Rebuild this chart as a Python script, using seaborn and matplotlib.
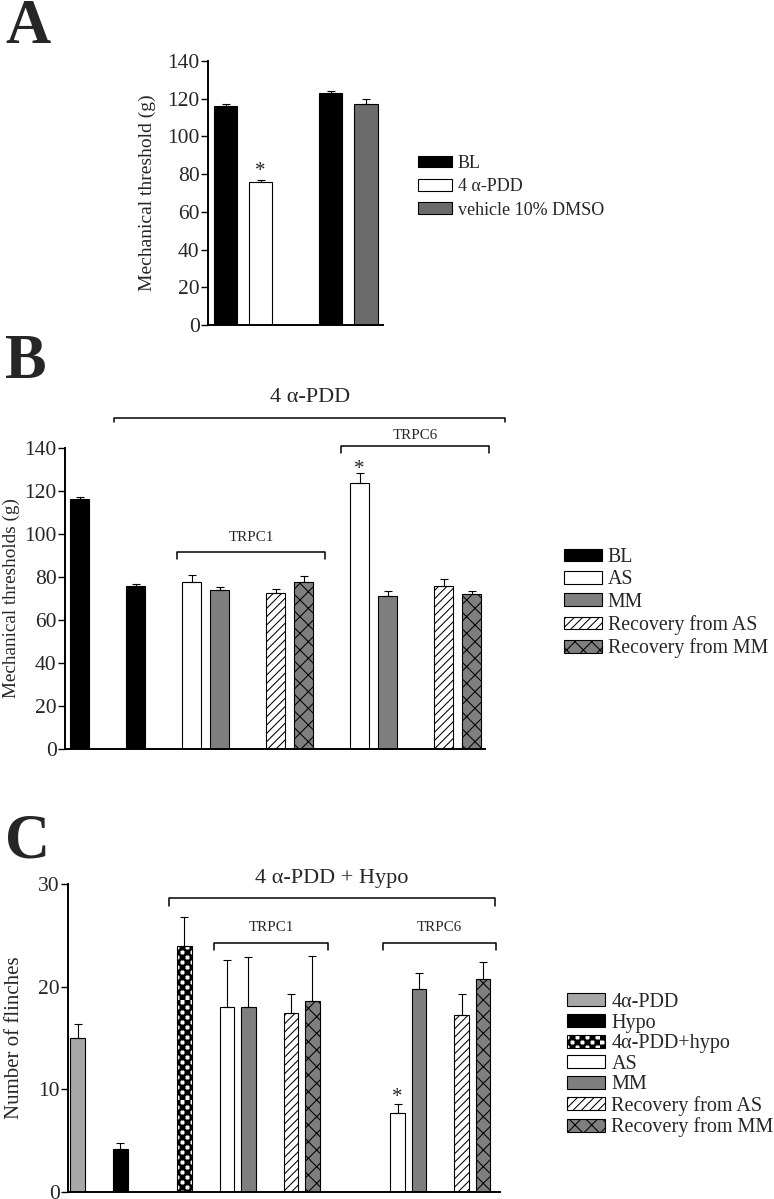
import numpy as np
import pandas as pd
import matplotlib
matplotlib.use("Agg")
import matplotlib.pyplot as plt
import matplotlib.patches as mpatches
from matplotlib import hatch as mhatch
from matplotlib.path import Path
import seaborn as sns

# ---- data (mean, upper SEM) ----
# panel A
a_ids = ["BL", "4 α-PDD", "BL (vehicle)", "vehicle 10% DMSO"]
a_cond = ["BL", "4 α-PDD", "BL", "vehicle 10% DMSO"]
a_mean = [116.1, 76.0, 122.8, 117.0]
a_sem = [1.3, 0.7, 1.1, 2.7]
a_star = ["4 α-PDD"]

# panel B
b_ids = ["BL", "4 α-PDD", "TRPC1 AS", "TRPC1 MM", "TRPC1 rec AS", "TRPC1 rec MM",
         "TRPC6 AS", "TRPC6 MM", "TRPC6 rec AS", "TRPC6 rec MM"]
b_cond = ["BL", "4 α-PDD", "AS", "MM", "Recovery from AS", "Recovery from MM",
          "AS", "MM", "Recovery from AS", "Recovery from MM"]
b_mean = [116.2, 76.0, 77.7, 73.9, 72.7, 77.7, 123.5, 71.2, 75.6, 71.9]
b_sem = [1.2, 0.7, 3.1, 1.6, 1.7, 2.6, 4.9, 2.3, 3.5, 1.6]
b_star = ["TRPC6 AS"]

# panel C
c_ids = ["4α-PDD", "Hypo", "4α-PDD+hypo", "TRPC1 AS", "TRPC1 MM", "TRPC1 rec AS", "TRPC1 rec MM",
         "TRPC6 AS", "TRPC6 MM", "TRPC6 rec AS", "TRPC6 rec MM"]
c_cond = ["4α-PDD", "Hypo", "4α-PDD+hypo", "AS", "MM", "Recovery from AS", "Recovery from MM",
          "AS", "MM", "Recovery from AS", "Recovery from MM"]
c_mean = [15.0, 4.15, 24.0, 18.0, 18.0, 17.4, 18.6, 7.65, 19.8, 17.2, 20.7]
c_sem = [1.4, 0.65, 2.8, 4.6, 4.85, 1.85, 4.4, 0.9, 1.5, 2.05, 1.75]
c_star = ["TRPC6 AS"]

# ---- layout: slot order along x, "_n" entries are empty gaps ----
A_ORDER = ["BL", "4 α-PDD", "_1", "BL (vehicle)", "vehicle 10% DMSO"]
B_ORDER = ["BL", "_1", "4 α-PDD", "_2", "TRPC1 AS", "TRPC1 MM", "_3", "TRPC1 rec AS", "TRPC1 rec MM",
           "_4", "TRPC6 AS", "TRPC6 MM", "_5", "TRPC6 rec AS", "TRPC6 rec MM"]
C_ORDER = ["4α-PDD", "_1", "Hypo", "_2", "_3", "4α-PDD+hypo", "_4", "TRPC1 AS", "TRPC1 MM", "_5",
           "TRPC1 rec AS", "TRPC1 rec MM", "_6", "_7", "_8", "TRPC6 AS", "TRPC6 MM", "_9",
           "TRPC6 rec AS", "TRPC6 rec MM"]

GRAY = "#7f7f7f"
A_STYLE = {"BL": ("black", ""), "4 α-PDD": ("white", ""), "vehicle 10% DMSO": ("#6b6b6b", "")}
B_STYLE = {"BL": ("black", ""), "4 α-PDD": ("black", ""), "AS": ("white", ""), "MM": (GRAY, ""),
           "Recovery from AS": ("white", "////"), "Recovery from MM": (GRAY, "xx")}
C_STYLE = {"4α-PDD": ("#a7a7a7", ""), "Hypo": ("black", ""), "4α-PDD+hypo": ("white", "O"),
           "AS": ("white", ""), "MM": (GRAY, ""),
           "Recovery from AS": ("white", "////"), "Recovery from MM": (GRAY, "xx")}


class CheckerHatch(mhatch.HatchPatternBase):
    """ Checkerboard fill, used in place of the 'O' hatch. """
    def __init__(self, hatch, density):
        self.n = hatch.count("O") * 20
        self.num_vertices = self.n * self.n // 2 * 5

    def set_vertices_and_codes(self, vertices, codes):
        s = 1.0 / self.n
        sq = np.array([[0, 0], [s, 0], [s, s], [0, s], [0, 0]])
        cells = [(i, j) for i in range(self.n) for j in range(self.n) if (i + j) % 2 == 0]
        for k, (i, j) in enumerate(cells):
            vertices[5*k:5*k+5] = sq + [i*s, j*s]
            codes[5*k:5*k+5] = [Path.MOVETO, Path.LINETO, Path.LINETO, Path.LINETO, Path.CLOSEPOLY]

mhatch._hatch_types[mhatch._hatch_types.index(mhatch.LargeCircles)] = CheckerHatch

sns.set_theme(style="ticks")
plt.rcParams["font.family"] = ["Liberation Serif", "DejaVu Sans"]
plt.rcParams["hatch.linewidth"] = 0.75
plt.rcParams["hatch.color"] = "black"
plt.rcParams["axes.linewidth"] = 1.4
plt.rcParams["axes.edgecolor"] = "black"

W, H = 774, 1199


def frac(l, r, t, b):
    return [l / W, 1 - b / H, (r - l) / W, (b - t) / H]


def draw_panel(ax, ids, conds, means, sems, order, styles, width, stars, star_off):
    df = pd.DataFrame({"id": ids, "cond": conds, "mean": means})
    sns.barplot(data=df, x="id", y="mean", order=order, width=width, errorbar=None,
                color="white", edgecolor="black", linewidth=0.8, ax=ax)
    cond_of = dict(zip(ids, conds))
    for p in ax.patches:
        if np.isnan(p.get_height()):
            continue
        name = order[int(round(p.get_x() + p.get_width() / 2))]
        fc, hatch = styles[cond_of[name]]
        p.set_facecolor(fc)
        p.set_hatch(hatch)
    pos = np.array([order.index(i) for i in ids])
    ax.errorbar(pos, means, yerr=[np.zeros(len(means)), sems], fmt="none", ecolor="black",
                elinewidth=0.8, capsize=3, capthick=0.8, zorder=3)
    for s in stars:
        k = ids.index(s)
        ax.annotate("*", (pos[k], means[k] + sems[k]), xytext=(0, star_off), textcoords="offset points",
                    ha="center", va="center", fontsize=15)
    sns.despine(ax=ax)
    ax.set_xticks([])
    ax.set_xlabel("")
    ax.tick_params(axis="y", length=5, width=1.0, pad=1, labelsize=15.5, color="black")


def bracket(ax, x0, x1, y, drop, text, ty, size):
    ax.plot([x0, x0, x1, x1], [y - drop, y, y, y - drop], color="black", lw=1.1, clip_on=False)
    ax.text((x0 + x1) / 2, ty, text, ha="center", va="center", fontsize=size)


def legend(ax, styles, labels, x, y, size, spacing):
    handles = [mpatches.Patch(facecolor=styles[l][0], hatch=styles[l][1], edgecolor="black",
                              linewidth=0.8, label=l) for l in labels]
    ax.legend(handles=handles, loc="upper left", bbox_to_anchor=(x / W, 1 - y / H),
              bbox_transform=ax.figure.transFigure, frameon=False, borderpad=0, borderaxespad=0,
              handlelength=1.9, handleheight=0.62, handletextpad=0.3, labelspacing=spacing,
              fontsize=size)


fig = plt.figure(figsize=(W / 100, H / 100), dpi=100)

# ---- A ----
axA = fig.add_axes(frac(208, 383, 61, 325))
draw_panel(axA, a_ids, a_cond, a_mean, a_sem, A_ORDER, A_STYLE, 0.67, a_star, 6.5)
axA.set_xlim(-0.50, 4.49)
axA.set_ylim(0, 140)
axA.set_yticks(range(0, 141, 20))
axA.set_ylabel("Mechanical threshold (g)", fontsize=14)
axA.yaxis.set_label_coords(-0.297, 0.5)
legend(axA, A_STYLE, ["BL", "4 α-PDD", "vehicle 10% DMSO"], 418, 155, 13, 0.35)

# ---- B ----
axB = fig.add_axes(frac(65, 485, 448, 749))
draw_panel(axB, b_ids, b_cond, b_mean, b_sem, B_ORDER, B_STYLE, 0.66, b_star, 2.3)
axB.set_xlim(-0.52, 14.48)
axB.set_ylim(0, 140)
axB.set_yticks(range(0, 141, 20))
axB.set_ylabel("Mechanical thresholds (g)", fontsize=13.8)
axB.yaxis.set_label_coords(-0.108, 0.5)
bracket(axB, 1.23, 15.2, 154, 1.9, "4 α-PDD", 163.7, 16)
bracket(axB, 9.34, 14.63, 141, 3.3, "TRPC6", 146, 10.8)
bracket(axB, 3.48, 8.77, 91.6, 3.3, "TRPC1", 98.6, 10.8)
legend(axB, B_STYLE, ["BL", "AS", "MM", "Recovery from AS", "Recovery from MM"], 564, 548, 14.3, 0.17)

# ---- C ----
axC = fig.add_axes(frac(68, 500, 884, 1192))
draw_panel(axC, c_ids, c_cond, c_mean, c_sem, C_ORDER, C_STYLE, 0.68, c_star, 4.5)
axC.set_xlim(-0.45, 19.8)
axC.set_ylim(0, 30)
axC.set_yticks(range(0, 31, 10))
axC.set_ylabel("Number of flinches", fontsize=15)
axC.yaxis.set_label_coords(-0.102, 0.5)
bracket(axC, 4.29, 19.56, 28.63, 0.78, "4 α-PDD + Hypo", 30.5, 16)
bracket(axC, 6.40, 11.74, 24.25, 0.68, "TRPC1", 25.8, 10.8)
bracket(axC, 14.32, 19.61, 24.25, 0.68, "TRPC6", 25.8, 10.8)
legend(axC, C_STYLE, ["4α-PDD", "Hypo", "4α-PDD+hypo", "AS", "MM", "Recovery from AS", "Recovery from MM"],
       567, 993, 14.5, 0.08)

# panel letters
for letter, base in [("A", 43), ("B", 378), ("C", 857)]:
    fig.text(5 / W, 1 - base / H, letter, fontsize=45, fontweight="bold", va="baseline", ha="left")

fig.savefig("out.png", dpi=100, facecolor="white")
